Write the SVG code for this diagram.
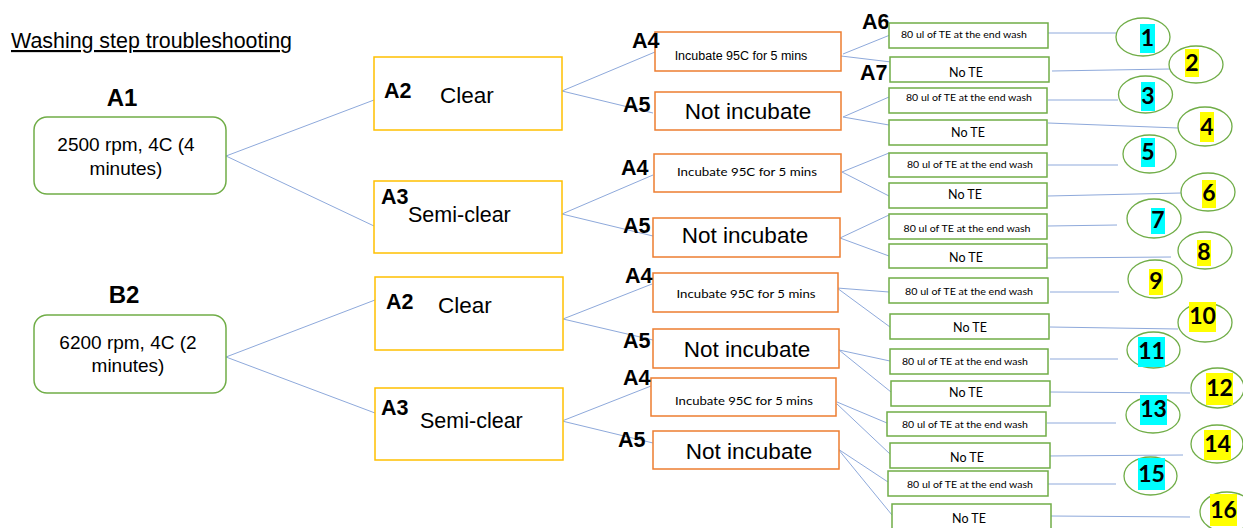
<svg xmlns="http://www.w3.org/2000/svg" width="1243" height="528" viewBox="0 0 1243 528">
<style>
  .bg{fill:#ffffff}
  .start{fill:#ffffff;stroke:#70AD47;stroke-width:1.5}
  .lvl2{fill:#ffffff;stroke:#FFC000;stroke-width:1.5}
  .lvl3{fill:#ffffff;stroke:#ED7D31;stroke-width:1.5}
  .leaf{fill:#ffffff;stroke:#70AD47;stroke-width:1.5}
  .res{fill:#ffffff;stroke:#70AD47;stroke-width:1.3}
  .conn line{stroke:#8EA9DB;stroke-width:1;fill:none}
  .title{font-family:"Liberation Sans",Arial,sans-serif;font-size:21.5px;fill:#000;text-decoration:underline}
  .lab{font-family:"Liberation Sans",Arial,sans-serif;font-weight:bold;font-size:21.5px;fill:#000}
  .big{font-family:"Liberation Sans",Arial,sans-serif;font-size:22.5px;fill:#000}
  .mid{font-family:"Liberation Sans",Arial,sans-serif;font-size:19px;fill:#000;text-anchor:middle}
  .sm{font-family:"Liberation Sans",Arial,sans-serif;font-size:12.5px;fill:#000;text-anchor:middle}
  .cal{font-family:Lato,"Open Sans",sans-serif;font-size:12px;fill:#000;text-anchor:middle}
  .te{font-family:Lato,"Open Sans",sans-serif;font-size:10px;fill:#000;text-anchor:middle}
  .note{font-family:Lato,"Open Sans",sans-serif;font-size:12.5px;fill:#000;text-anchor:middle}
  .num{font-family:Lato,"Liberation Sans",sans-serif;font-weight:bold;font-size:23px;fill:#000;text-anchor:middle}
  .cy{fill:#00FFFF}
  .ye{fill:#FFFF00}
</style>
<rect class="bg" x="0" y="0" width="1243" height="528"/>

<text class="title" x="11" y="48" textLength="281" lengthAdjust="spacingAndGlyphs">Washing step troubleshooting</text>

<g id="connectors" class="conn">
  <line x1="226" y1="156" x2="374" y2="100"/>
  <line x1="226" y1="156" x2="374" y2="226"/>
  <line x1="226" y1="357" x2="375" y2="300"/>
  <line x1="226" y1="357" x2="375" y2="413"/>
  <line x1="562" y1="91" x2="655" y2="52"/>
  <line x1="562" y1="91" x2="653" y2="113"/>
  <line x1="562" y1="214" x2="653" y2="175"/>
  <line x1="562" y1="214" x2="653" y2="236"/>
  <line x1="563" y1="319" x2="652" y2="284"/>
  <line x1="563" y1="319" x2="653" y2="340"/>
  <line x1="562" y1="421" x2="651" y2="386"/>
  <line x1="562" y1="421" x2="653" y2="443"/>
  <line x1="843" y1="54" x2="890" y2="35"/>
  <line x1="841" y1="56" x2="891" y2="62"/>
  <line x1="843" y1="117" x2="889" y2="97"/>
  <line x1="843" y1="117" x2="889" y2="125"/>
  <line x1="842" y1="172" x2="889" y2="153"/>
  <line x1="842" y1="172" x2="889" y2="196"/>
  <line x1="840" y1="238" x2="889" y2="215"/>
  <line x1="840" y1="238" x2="889" y2="256"/>
  <line x1="837" y1="288" x2="889" y2="292"/>
  <line x1="837" y1="288" x2="890" y2="327"/>
  <line x1="839" y1="350" x2="890" y2="361"/>
  <line x1="839" y1="350" x2="891" y2="392"/>
  <line x1="837" y1="402" x2="887" y2="423"/>
  <line x1="837" y1="404" x2="890" y2="454"/>
  <line x1="838" y1="449" x2="888" y2="482"/>
  <line x1="838" y1="449" x2="892" y2="515"/>
  <line x1="1047" y1="33" x2="1116" y2="33"/>
  <line x1="1052" y1="71" x2="1170" y2="69"/>
  <line x1="1048" y1="100" x2="1118" y2="100"/>
  <line x1="1048" y1="123" x2="1178" y2="128"/>
  <line x1="1048" y1="165" x2="1118" y2="165"/>
  <line x1="1048" y1="196" x2="1181" y2="193"/>
  <line x1="1048" y1="226" x2="1117" y2="225"/>
  <line x1="1047" y1="258" x2="1171" y2="257"/>
  <line x1="1050" y1="292" x2="1119" y2="292"/>
  <line x1="1050" y1="327" x2="1178" y2="329"/>
  <line x1="1050" y1="359" x2="1118" y2="359"/>
  <line x1="1050" y1="392" x2="1190" y2="393"/>
  <line x1="1047" y1="423" x2="1116" y2="423"/>
  <line x1="1047" y1="456" x2="1183" y2="455"/>
  <line x1="1047" y1="484" x2="1116" y2="484"/>
  <line x1="1051" y1="516" x2="1190" y2="517"/>
</g>

<g id="A1">
  <text class="lab" x="122" y="106" text-anchor="middle" style="font-size:24px">A1</text>
  <rect class="start" x="34" y="117" width="192" height="77" rx="13"/>
  <text class="mid" x="126" y="151">2500 rpm, 4C (4</text>
  <text class="mid" x="126" y="175">minutes)</text>
</g>
<g id="B2">
  <text class="lab" x="124" y="303" text-anchor="middle" style="font-size:24px">B2</text>
  <rect class="start" x="34" y="315" width="192" height="78" rx="13"/>
  <text class="mid" x="128" y="349">6200 rpm, 4C (2</text>
  <text class="mid" x="128" y="372">minutes)</text>
</g>

<g id="A2-top">
  <rect class="lvl2" x="374" y="57" width="188" height="73"/>
  <text class="lab" x="384" y="98">A2</text>
  <text class="big" x="440" y="103">Clear</text>
</g>
<g id="A3-top">
  <rect class="lvl2" x="374" y="181" width="188" height="72"/>
  <text class="lab" x="381" y="204">A3</text>
  <text class="big" x="408" y="222" style="font-size:21.5px">Semi-clear</text>
</g>
<g id="A2-bottom">
  <rect class="lvl2" x="375" y="277" width="188" height="73"/>
  <text class="lab" x="386" y="309">A2</text>
  <text class="big" x="438" y="313">Clear</text>
</g>
<g id="A3-bottom">
  <rect class="lvl2" x="375" y="388" width="188" height="72"/>
  <text class="lab" x="381" y="415">A3</text>
  <text class="big" x="420" y="428" style="font-size:21.5px">Semi-clear</text>
</g>

<g id="A4-1">
  <rect class="lvl3" x="655" y="32" width="186" height="39"/>
  <text class="lab" x="632" y="48">A4</text>
  <text class="sm" x="741" y="60">Incubate 95C for 5 mins</text>
</g>
<g id="A5-1">
  <rect class="lvl3" x="655" y="92" width="186" height="38"/>
  <text class="lab" x="623" y="112">A5</text>
  <text class="big" x="748" y="119" text-anchor="middle">Not incubate</text>
</g>
<g id="A4-2">
  <rect class="lvl3" x="654" y="154" width="187" height="38"/>
  <text class="lab" x="621" y="175">A4</text>
  <text class="cal" x="747" y="176" textLength="140" lengthAdjust="spacingAndGlyphs">Incubate 95C for 5 mins</text>
</g>
<g id="A5-2">
  <rect class="lvl3" x="653" y="218" width="187" height="39"/>
  <text class="lab" x="623" y="233">A5</text>
  <text class="big" x="745" y="243" text-anchor="middle">Not incubate</text>
</g>
<g id="A4-3">
  <rect class="lvl3" x="653" y="273" width="185" height="39"/>
  <text class="lab" x="625" y="283">A4</text>
  <text class="cal" x="746" y="298" textLength="139" lengthAdjust="spacingAndGlyphs">Incubate 95C for 5 mins</text>
</g>
<g id="A5-3">
  <rect class="lvl3" x="653" y="329" width="186" height="39"/>
  <text class="lab" x="623" y="348">A5</text>
  <text class="big" x="747" y="357" text-anchor="middle">Not incubate</text>
</g>
<g id="A4-4">
  <rect class="lvl3" x="651" y="378" width="185" height="38"/>
  <text class="lab" x="623" y="385">A4</text>
  <text class="cal" x="744" y="405" textLength="138" lengthAdjust="spacingAndGlyphs">Incubate 95C for 5 mins</text>
</g>
<g id="A5-4">
  <rect class="lvl3" x="653" y="431" width="186" height="38"/>
  <text class="lab" x="618" y="447">A5</text>
  <text class="big" x="749" y="459" text-anchor="middle">Not incubate</text>
</g>

<g id="A6-A7-labels">
  <text class="lab" x="862" y="29">A6</text>
  <text class="lab" x="860" y="80">A7</text>
</g>

<g id="leaf-1"><rect class="leaf" x="889" y="23" width="159" height="25"/><text class="te" x="964" y="38" textLength="126" lengthAdjust="spacingAndGlyphs">80 ul of TE at the end wash</text></g>
<g id="leaf-2"><rect class="leaf" x="890" y="57" width="159" height="25"/><text class="note" x="966" y="77">No TE</text></g>
<g id="leaf-3"><rect class="leaf" x="889" y="88" width="158" height="25"/><text class="te" x="969" y="101" textLength="126" lengthAdjust="spacingAndGlyphs">80 ul of TE at the end wash</text></g>
<g id="leaf-4"><rect class="leaf" x="889" y="120" width="158" height="25"/><text class="note" x="968" y="137">No TE</text></g>
<g id="leaf-5"><rect class="leaf" x="889" y="153" width="158" height="24"/><text class="te" x="970" y="168" textLength="126" lengthAdjust="spacingAndGlyphs">80 ul of TE at the end wash</text></g>
<g id="leaf-6"><rect class="leaf" x="889" y="183" width="158" height="25"/><text class="note" x="965" y="199">No TE</text></g>
<g id="leaf-7"><rect class="leaf" x="889" y="214" width="158" height="25"/><text class="te" x="967" y="232" textLength="127" lengthAdjust="spacingAndGlyphs">80 ul of TE at the end wash</text></g>
<g id="leaf-8"><rect class="leaf" x="889" y="244" width="158" height="24"/><text class="note" x="966" y="262">No TE</text></g>
<g id="leaf-9"><rect class="leaf" x="889" y="278" width="159" height="25"/><text class="te" x="969" y="295" textLength="128" lengthAdjust="spacingAndGlyphs">80 ul of TE at the end wash</text></g>
<g id="leaf-10"><rect class="leaf" x="890" y="314" width="159" height="25"/><text class="note" x="970" y="332">No TE</text></g>
<g id="leaf-11"><rect class="leaf" x="890" y="349" width="158" height="25"/><text class="te" x="965" y="365" textLength="126" lengthAdjust="spacingAndGlyphs">80 ul of TE at the end wash</text></g>
<g id="leaf-12"><rect class="leaf" x="891" y="381" width="159" height="25"/><text class="note" x="966" y="397">No TE</text></g>
<g id="leaf-13"><rect class="leaf" x="887" y="412" width="159" height="24"/><text class="te" x="965" y="428" textLength="126" lengthAdjust="spacingAndGlyphs">80 ul of TE at the end wash</text></g>
<g id="leaf-14"><rect class="leaf" x="890" y="443" width="160" height="25"/><text class="note" x="967" y="462">No TE</text></g>
<g id="leaf-15"><rect class="leaf" x="888" y="471" width="160" height="25"/><text class="te" x="970" y="488" textLength="126" lengthAdjust="spacingAndGlyphs">80 ul of TE at the end wash</text></g>
<g id="leaf-16"><rect class="leaf" x="892" y="504" width="159" height="30"/><text class="note" x="969" y="523">No TE</text></g>

<g id="result-1"><ellipse class="res" cx="1143" cy="37" rx="27" ry="19"/><rect class="cy" x="1140" y="24" width="15" height="29"/><text class="num" x="1147.5" y="46">1</text></g>
<g id="result-2"><ellipse class="res" cx="1196" cy="64.5" rx="27" ry="18.5"/><rect class="ye" x="1185" y="49" width="14" height="28"/><text class="num" x="1192" y="71">2</text></g>
<g id="result-3"><ellipse class="res" cx="1145.5" cy="94.5" rx="27" ry="18.5"/><rect class="cy" x="1141" y="82" width="14" height="29"/><text class="num" x="1148" y="104">3</text></g>
<g id="result-4"><ellipse class="res" cx="1205" cy="126.5" rx="27" ry="19.5"/><rect class="ye" x="1200" y="112" width="14" height="30"/><text class="num" x="1207" y="135">4</text></g>
<g id="result-5"><ellipse class="res" cx="1149.5" cy="154" rx="26.5" ry="19"/><rect class="cy" x="1141" y="138" width="14" height="29"/><text class="num" x="1148" y="160">5</text></g>
<g id="result-6"><ellipse class="res" cx="1208" cy="192" rx="27" ry="19"/><rect class="ye" x="1202" y="180" width="14" height="28"/><text class="num" x="1209" y="201">6</text></g>
<g id="result-7"><ellipse class="res" cx="1154" cy="218.5" rx="27" ry="19.5"/><rect class="cy" x="1151" y="208" width="14" height="26"/><text class="num" x="1158" y="228">7</text></g>
<g id="result-8"><ellipse class="res" cx="1205" cy="250.5" rx="27" ry="18.5"/><rect class="ye" x="1197" y="240" width="14" height="26"/><text class="num" x="1204" y="260">8</text></g>
<g id="result-9"><ellipse class="res" cx="1155" cy="279" rx="27" ry="19"/><rect class="ye" x="1149" y="269" width="14" height="26"/><text class="num" x="1156" y="289">9</text></g>
<g id="result-10"><ellipse class="res" cx="1205" cy="322.5" rx="27" ry="19.5"/><rect class="ye" x="1189" y="302" width="27" height="30"/><text class="num" x="1202.5" y="324">10</text></g>
<g id="result-11"><ellipse class="res" cx="1153.5" cy="350" rx="26.5" ry="18"/><rect class="cy" x="1138" y="337" width="27" height="30"/><text class="num" x="1151.5" y="359">11</text></g>
<g id="result-12"><ellipse class="res" cx="1217.5" cy="388" rx="26.5" ry="20"/><rect class="ye" x="1206" y="373" width="27" height="32"/><text class="num" x="1219.5" y="396">12</text></g>
<g id="result-13"><ellipse class="res" cx="1153" cy="415" rx="27" ry="18"/><rect class="cy" x="1140" y="395" width="27" height="30"/><text class="num" x="1153.5" y="417">13</text></g>
<g id="result-14"><ellipse class="res" cx="1217" cy="444" rx="26" ry="19"/><rect class="ye" x="1204" y="430" width="27" height="30"/><text class="num" x="1217.5" y="452">14</text></g>
<g id="result-15"><ellipse class="res" cx="1150.5" cy="476" rx="26.5" ry="19"/><rect class="cy" x="1138" y="458" width="27" height="32"/><text class="num" x="1151.5" y="482">15</text></g>
<g id="result-16"><ellipse class="res" cx="1227" cy="512" rx="27" ry="20"/><rect class="ye" x="1210" y="494" width="27" height="32"/><text class="num" x="1223.5" y="518">16</text></g>
</svg>
